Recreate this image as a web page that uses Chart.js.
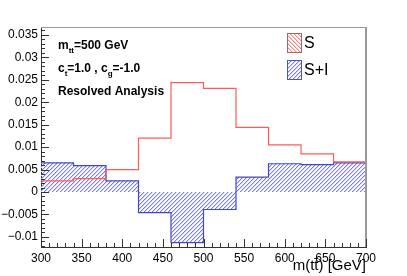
<!DOCTYPE html>
<html><head><meta charset="utf-8">
<script src="https://cdn.jsdelivr.net/npm/chart.js@4.4.1/dist/chart.umd.min.js"></script>
<style>html,body{margin:0;padding:0;background:#fff}</style>
</head><body>
<canvas id="c" width="407" height="276"></canvas>
<script>
// histogram bins (GeV) and contents
const binEdges = [300,340,380,420,460,500,540,580,620,660,700];
const sigValues = [0.0025,0.0030,0.0050,0.0120,0.0244,0.0231,0.0144,0.0105,0.0085,0.0067];
const sigIntValues = [0.0065,0.0059,0.0025,-0.0046,-0.0113,-0.0039,0.0033,0.0063,0.0061,0.0065];
const xTicks = [300,350,400,450,500,550,600,650,700];
const yTicks = [-0.01,-0.005,0,0.005,0.01,0.015,0.02,0.025,0.03,0.035];
const seriesLabels = ["S","S+I"];
const infoLines = [
  [["m",0],["tt",1],["=500 GeV",0]],
  [["c",0],["t",1],["=1.0 , c",0],["g",1],["=-1.0",0]],
  [["Resolved Analysis",0]]
];

const RED = "#ff5a5a", BLUE = "#4646c4";
const FONT = '"Liberation Sans", Arial, sans-serif';

// diagonal hatch tile: a solid line pixel plus a softer halo pixel
function hatch(core, halo, fwd){
  const n = 4, c = document.createElement("canvas");
  c.width = c.height = n;
  const g = c.getContext("2d");
  for (let i=0;i<n;i++){
    const row = fwd ? n-1-i : i;
    g.fillStyle = core; g.fillRect(i, row, 1, 1);
    g.fillStyle = halo; g.fillRect((i+1)%n, row, 1, 1);
  }
  return g.createPattern(c, "repeat");
}
const blueHatch = hatch("rgb(120,120,245)", "rgb(210,210,253)", true);
const redHatch = hatch("rgb(255,130,130)", "rgb(255,210,210)", false);

// step points: each bin's value starts at its lower edge, last edge closes the bin
const steps = vals => binEdges.map((x,i)=>({x, y: vals[Math.min(i, vals.length-1)]}));

const fmt = v => {
  if (Math.abs(v) < 1e-9) return "0";
  const s = String(+v.toFixed(3));
  return v < 0 ? "\u2212" + s.slice(1) : s;
};

const decor = {
  id: "decor",
  afterDatasetsDraw(chart){
    const {ctx, chartArea:a, scales:{x, y}} = chart;
    ctx.save();
    // frame top/right
    ctx.strokeStyle = "#9a9a9a";
    ctx.lineWidth = 1;
    ctx.beginPath(); ctx.moveTo(a.left, a.top+0.5); ctx.lineTo(a.right, a.top+0.5); ctx.stroke();
    ctx.lineWidth = 2;
    ctx.beginPath(); ctx.moveTo(a.right, a.top); ctx.lineTo(a.right, a.bottom); ctx.stroke();
    // ticks (inside)
    ctx.strokeStyle = "#333"; ctx.lineWidth = 1;
    ctx.beginPath();
    for (let v=-12; v<=36; v++){
      const py = Math.round(y.getPixelForValue(v/1000)) + 0.5;
      const len = v % 5 === 0 ? 8 : 4;
      ctx.moveTo(a.left, py); ctx.lineTo(a.left+len, py);
    }
    for (let v=300; v<=700; v+=10){
      const px = Math.round(x.getPixelForValue(v)) + 0.5;
      const len = v % 50 === 0 ? 8 : 4;
      ctx.moveTo(px, a.bottom); ctx.lineTo(px, a.bottom-len);
    }
    ctx.stroke();

    // info text
    ctx.fillStyle = "#000";
    ctx.textBaseline = "alphabetic";
    const baseY = [49, 72, 95];
    infoLines.forEach((parts, li)=>{
      let cx = 58;
      parts.forEach(([t, sub])=>{
        ctx.font = sub ? "bold 8px " + FONT : "bold 12px " + FONT;
        ctx.fillText(t, cx, baseY[li] + (sub ? 4 : 0));
        cx += ctx.measureText(t).width;
      });
    });

    // legend
    const items = [
      {label: seriesLabels[0], fill: redHatch, border: "#a06868", y: 33},
      {label: seriesLabels[1], fill: blueHatch, border: "#5050c8", y: 60}
    ];
    items.forEach(it=>{
      ctx.fillStyle = it.fill;
      ctx.fillRect(287, it.y, 14, 19);
      ctx.strokeStyle = it.border; ctx.lineWidth = 1;
      ctx.strokeRect(287.5, it.y+0.5, 14, 19);
      ctx.fillStyle = "#000";
      ctx.font = "16px " + FONT;
      ctx.textBaseline = "middle";
      ctx.fillText(it.label, 304, it.y + 10.5);
    });
    ctx.restore();
  }
};

new Chart(document.getElementById("c"), {
  type: "line",
  data: {
    datasets: [
      {label: seriesLabels[0], data: steps(sigValues), stepped: "before", borderColor: RED, borderWidth: 1.2,
       pointRadius: 0, fill: false, backgroundColor: redHatch},
      {label: seriesLabels[1], data: steps(sigIntValues), stepped: "before", borderColor: BLUE, borderWidth: 1.2,
       pointRadius: 0, fill: "origin", backgroundColor: blueHatch}
    ]
  },
  options: {
    responsive: false, animation: false, devicePixelRatio: 1,
    layout: {padding: {top: 27, right: 41, left: 0, bottom: 0}},
    plugins: {legend: {display: false}, tooltip: {enabled: false}},
    scales: {
      x: {
        type: "linear", min: 300, max: 700,
        afterBuildTicks: s => { s.ticks = xTicks.map(v=>({value: v})); },
        afterFit: s => { s.height = 29; },
        grid: {display: false, drawTicks: false},
        border: {display: true, color: "#333", width: 1},
        ticks: {padding: 4, color: "#000", font: {family: FONT, size: 12}, maxRotation: 0, autoSkip: false},
        title: {display: true, text: "m(tt\u0304) [GeV]", align: "end", color: "#000",
                font: {family: FONT, size: 15}, padding: {top: 0, bottom: 1}}
      },
      y: {
        type: "linear", min: -0.01226, max: 0.03678,
        afterBuildTicks: s => { s.ticks = yTicks.map(v=>({value: v})); },
        afterFit: s => { s.width = 41; },
        grid: {display: false, drawTicks: false},
        border: {display: true, color: "#333", width: 1},
        ticks: {padding: 3, color: "#000", font: {family: FONT, size: 12}, autoSkip: false, callback: v => fmt(v)}
      }
    }
  },
  plugins: [decor]
});
</script>
</body></html>
